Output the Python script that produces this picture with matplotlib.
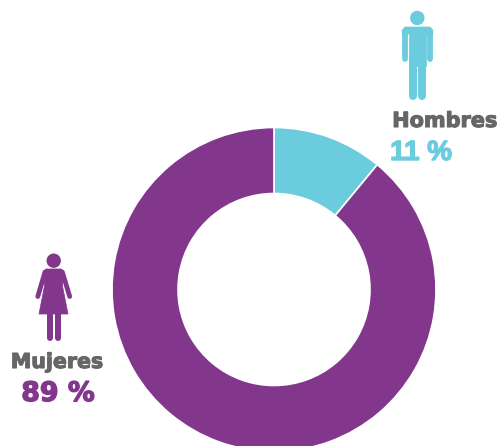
import matplotlib
matplotlib.use('Agg')
import matplotlib.pyplot as plt
import matplotlib.patheffects as pe
from matplotlib.patches import Circle, Polygon

# Data
labels = ['Hombres', 'Mujeres']
values = [11, 89]
value_labels = ['11 %', '89 %']
colors = ['#6accdc', '#82368c']
grey = '#666666'

H = 446
fig = plt.figure(figsize=(5, 4.46), dpi=100)
ax = fig.add_axes([0, 0, 1, 1])
ax.set_xlim(0, 500)
ax.set_ylim(0, H)
ax.set_aspect('equal')
ax.axis('off')

# Donut, runs off the bottom of the figure
ax.pie(values, colors=colors, startangle=90, counterclock=False,
       center=(274, H - 289.5), radius=162, frame=True,
       wedgeprops=dict(width=66, edgecolor='white', linewidth=1.2))
ax.set_xlim(0, 500)
ax.set_ylim(0, H)
ax.axis('off')


def limb(xs, ys, color, width):
    # thick round-ended stroke for arms and legs, width in pixels
    ax.plot(xs, [H - y for y in ys], color=color, lw=width * 0.72,
            solid_capstyle='round', solid_joinstyle='round')


def poly(pts, color):
    ax.add_patch(Polygon([(x, H - y) for x, y in pts], closed=True, fc=color, ec=color,
                         lw=0.5, joinstyle='round'))


def heavy(x, y, s, color, size, stroke, family='DejaVu Sans'):
    ax.text(x, H - y, s, color=color, fontsize=size, fontweight='bold', family=family,
            ha='center', va='center',
            path_effects=[pe.withStroke(linewidth=stroke, foreground=color)])


# Man icon
c = colors[0]
ax.add_patch(Circle((417.3, H - 18), 7.2, fc=c, ec='none'))
poly([(405, 27), (430, 27), (432.8, 30), (432.8, 34), (402.2, 34), (402.2, 30)], c)
poly([(408.8, 30), (426.4, 30), (426.4, 66), (408.8, 66)], c)
limb([405.1, 405.1], [32, 59.3], c, 5.8)
limb([430, 430], [32, 59.3], c, 5.8)
limb([413, 413], [60, 96], c, 8)
limb([422.2, 422.2], [60, 96], c, 8)

# Woman icon
c = colors[1]
ax.add_patch(Circle((53.7, H - 260.7), 7.2, fc=c, ec='none'))
poly([(46, 269), (61.5, 269), (63.5, 272), (62.5, 286), (68, 314), (39, 314), (44.5, 286),
      (43.5, 272)], c)
limb([45, 37.8], [272, 296.5], c, 4.8)
limb([62.3, 69.7], [272, 296.5], c, 4.8)
limb([49.5, 49.5], [312, 337.5], c, 6)
limb([58, 58], [312, 337.5], c, 6)

# Labels
heavy(445, 121, labels[0], grey, 15, 0.8)
heavy(421, 153, value_labels[0], colors[0], 20, 1.0, family='Liberation Sans')
heavy(57, 362, labels[1], grey, 14.8, 0.8)
heavy(58, 394, value_labels[1], colors[1], 19.3, 1.0)

fig.savefig('out.png', dpi=100)
